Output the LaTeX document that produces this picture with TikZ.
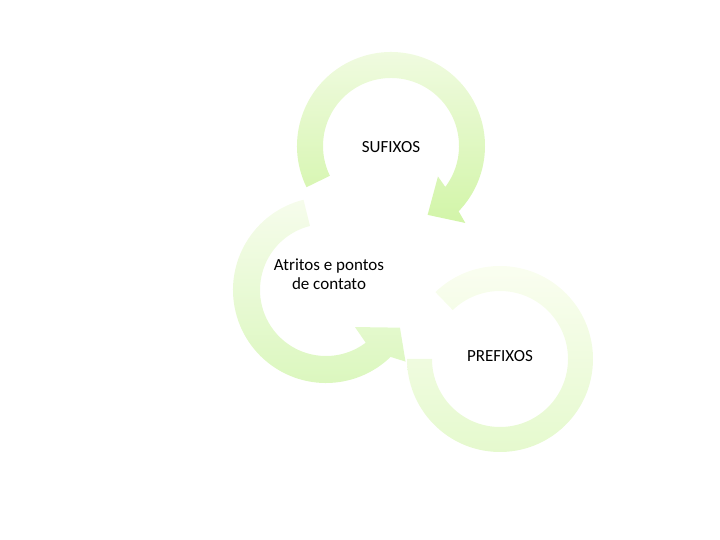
\documentclass[tikz,border=0pt]{standalone}
\usepackage{fontspec}
\setmainfont{Carlito}
\usetikzlibrary{calc}

\definecolor{sufHi}{RGB}{242,251,228}
\definecolor{sufLo}{RGB}{210,245,168}
\definecolor{atrHi}{RGB}{246,252,236}
\definecolor{atrLo}{RGB}{218,247,188}
\definecolor{preHi}{RGB}{251,254,242}
\definecolor{preLo}{RGB}{228,249,204}

\tikzset{
  captxt/.style={font=\fontsize{17}{18.5}\selectfont, align=center, text=black},
}

\begin{document}
\begin{tikzpicture}[x=1pt,y=1pt]
\useasboundingbox (0,0) rectangle (720,540);

% ring centres
\coordinate (pre) at (500,181);
\coordinate (atr) at (326,250);
\coordinate (suf) at (391,394);

% objects at depth 30: PREFIXOS ring
\shade[top color=preHi,bottom color=preLo]
  ($(pre)+(134:93)$) arc[start angle=134,end angle=-180,radius=93]
  -- ($(pre)+(180:68)$) arc[start angle=180,end angle=494,radius=68] -- cycle;

% objects at depth 20: Atritos ring with arrow head
\shade[top color=atrHi,bottom color=atrLo]
  ($(atr)+(104:93)$) arc[start angle=104,end angle=314,radius=93]
  -- ($(atr)+(318:107)$) -- ($(atr)+(333:83)$) -- ($(atr)+(308:47)$)
  -- ($(atr)+(307:66)$) arc[start angle=307,end angle=104,radius=66] -- cycle;

% objects at depth 10: SUFIXOS ring with arrow head
\shade[top color=sufHi,bottom color=sufLo]
  ($(suf)+(206:94)$) arc[start angle=206,end angle=-44,radius=94]
  -- ($(suf)+(-46:107)$) -- ($(suf)+(-62:78)$) -- ($(suf)+(-33:56)$)
  -- ($(suf)+(-37:68)$) arc[start angle=-37,end angle=206,radius=68] -- cycle;

% texts
\node[captxt] (sufTxt) at (391,393) {SUFIXOS};
\node[captxt] (atrTxt) at (329,266) {Atritos e pontos\\de contato};
\node[captxt] (preTxt) at (500,184) {PREFIXOS};

\end{tikzpicture}
\end{document}
